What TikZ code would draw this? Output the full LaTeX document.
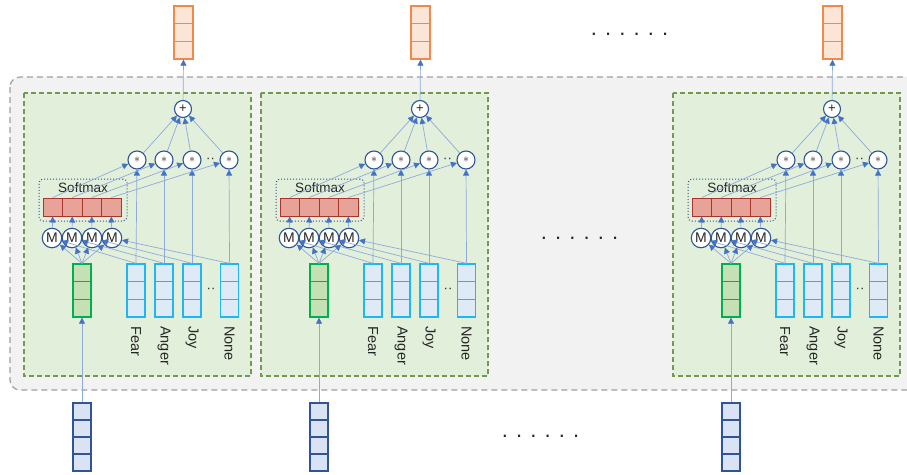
\documentclass[tikz,border=0pt]{standalone}
\usepackage{fontspec}
\setmainfont{Liberation Sans}
\usetikzlibrary{arrows.meta}

\definecolor{connblue}{HTML}{8EAADB}
\definecolor{tipblue}{HTML}{4472C4}
\definecolor{navy}{HTML}{2F5597}
\definecolor{panelfill}{HTML}{E2EFDA}
\definecolor{paneldraw}{HTML}{6F9B4D}
\definecolor{greyfill}{HTML}{F2F2F2}
\definecolor{greydraw}{HTML}{A0A0A0}
\definecolor{outfill}{HTML}{FBE5D6}
\definecolor{outdraw}{HTML}{F08A4B}
\definecolor{hidfill}{HTML}{C5E0B4}
\definecolor{hiddraw}{HTML}{00B050}
\definecolor{labfill}{HTML}{DEEBF7}
\definecolor{labdraw}{HTML}{1FB6F2}
\definecolor{infill}{HTML}{DAE3F3}
\definecolor{redfill}{HTML}{E8A398}
\definecolor{reddraw}{HTML}{A9342D}
\definecolor{txt}{HTML}{262626}

\tikzset{
  cell/.style={draw, line width=1.2pt, minimum width=18pt, minimum height=17.7pt, inner sep=0pt},
  outcell/.style={cell, draw=outdraw, fill=outfill, minimum width=19pt},
  hidcell/.style={cell, draw=hiddraw, fill=hidfill},
  labcell/.style={cell, draw=labdraw, fill=labfill},
  incell/.style={cell, draw=navy, fill=infill, minimum height=17pt},
  redcell/.style={draw=reddraw, fill=redfill, line width=1pt, minimum width=19.5pt, minimum height=18pt, inner sep=0pt},
  opcirc/.style={circle, draw=navy, fill=white, line width=1.1pt, minimum size=18pt, inner sep=0pt, font=\fontsize{13}{13}\selectfont, text=txt},
  mcirc/.style={opcirc, minimum size=19.5pt, font=\fontsize{14}{14}\selectfont},
  softbox/.style={draw=navy, dotted, line width=1pt, rounded corners=4pt, minimum width=88pt, minimum height=42pt, inner sep=0pt},
  conn/.style={draw=connblue, line width=0.7pt, -{Triangle[length=6pt,width=6pt,color=tipblue]}},
  labtext/.style={rotate=-90, anchor=west, inner sep=0pt, text=txt, font=\fontsize{14.5}{14.5}\selectfont},
  dotstext/.style={anchor=base, inner sep=0pt, text=txt, font=\fontsize{22}{22}\selectfont},
}

\begin{document}
\begin{tikzpicture}[x=1pt,y=-1pt]
\useasboundingbox (0,0) rectangle (907,474);
% outer frame
\draw[fill=greyfill, draw=greydraw, line width=1.2pt, dash pattern=on 6pt off 4pt, rounded corners=10pt] (10,77) rectangle (940,390);

\foreach \p/\dx in {a/0,b/237,c/649}{
\begin{scope}[shift={(\dx,0)}]
  \draw[fill=panelfill, draw=paneldraw, line width=1.2pt, dash pattern=on 5pt off 3pt] (24,93) rectangle (251,376);
  % output vector
  \foreach \k/\y in {1/14.8,2/32.5,3/50.2}
    \node[outcell] (\p-o\k) at (183.5,\y) {};
  % hidden vector
  \foreach \k/\y in {1/272.8,2/290.5,3/308.2}
    \node[hidcell] (\p-g\k) at (82,\y) {};
  % label vectors
  \foreach \j/\x/\t in {1/136/Fear,2/164/Anger,3/192/Joy,4/229.5/None}{
    \foreach \k/\y in {1/272.8,2/290.5,3/308.2}
      \node[labcell] (\p-l\j-\k) at (\x,\y) {};
    \node[labtext] (\p-t\j) at (\x,326) {\t};
  }
  \node[text=txt, font=\fontsize{13}{13}\selectfont] (\p-dl) at (211,290) {··};
  % input vector
  \foreach \k/\y in {1/411.5,2/428.5,3/445.5,4/462.5}
    \node[incell] (\p-i\k) at (82,\y) {};
  % softmax
  \node[softbox] (\p-soft) at (83,200) {};
  \node[text=txt, font=\fontsize{13.5}{13.5}\selectfont] (\p-softlbl) at (83,187.5) {Softmax};
  \foreach \i/\x in {1/52.75,2/72.25,3/91.75,4/111.25}
    \node[redcell] (\p-r\i) at (\x,207) {};
  \foreach \i/\x in {1/52,2/72,3/92,4/112}
    \node[mcirc] (\p-m\i) at (\x,238) {M};
  % products and sum
  \foreach \j/\x in {1/137,2/164,3/192,4/229}
    \node[opcirc] (\p-s\j) at (\x,160) {$\ast$};
  \node[text=txt, font=\fontsize{13}{13}\selectfont] (\p-ds) at (210.5,160) {··};
  \node[opcirc, minimum size=17pt] (\p-plus) at (183,109) {+};

  \draw[conn] (\p-i1.north) -- (\p-g3.south);
  \foreach \i in {1,...,4}{
    \draw[conn] (\p-g1.north) -- (\p-m\i);
    \draw[conn] (\p-l\i-1.north) -- (\p-m\i);
    \draw[conn] (\p-m\i) -- (\p-r\i.south);
    \draw[conn] (\p-r\i.north) -- (\p-s\i);
    \draw[conn] (\p-l\i-1.north) -- (\p-s\i);
    \draw[conn] (\p-s\i) -- (\p-plus);
  }
  \draw[conn] (\p-plus) -- (\p-o3.south);
\end{scope}
}

% ellipses between panels
\node[dotstext] (dtop) at (629.5,35.5) {. . . . . .};
\node[dotstext] (dmid) at (579.5,239.5) {. . . . . .};
\node[dotstext] (dbot) at (540.5,437.5) {. . . . . .};
\end{tikzpicture}
\end{document}
